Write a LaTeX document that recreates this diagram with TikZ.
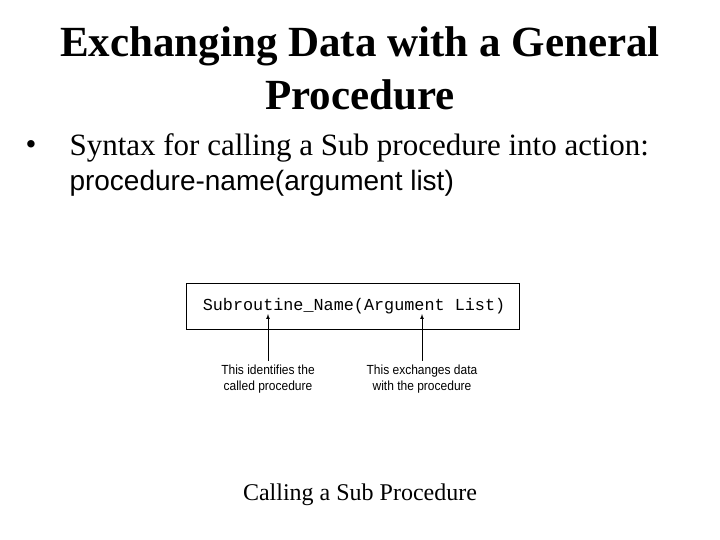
\documentclass[tikz,border=0pt]{standalone}
\usepackage{fontspec}
\setmainfont{Liberation Serif}
\setmonofont{Liberation Mono}
\setsansfont{Liberation Sans}
\usetikzlibrary{positioning}
\tikzset{
  title/.style={font=\fontsize{43}{53}\selectfont\bfseries,align=center},
  bodytext/.style={font=\fontsize{31}{35}\selectfont,anchor=west},
  note/.style={font=\sffamily\fontsize{12}{14}\selectfont,align=center,inner sep=0pt,yscale=1.1},
  pointer/.style={-latex,line width=0.7pt}
}
\begin{document}
\begin{tikzpicture}[x=1pt,y=-1pt]
	\useasboundingbox (0,0) rectangle (720,540);
	\node[title] (head) at (360,68) {Exchanging Data with a General\\Procedure};
	\node[bodytext] (bul) at (22,148) {\textbullet};
	\node[bodytext] (line1) at (66,148) {Syntax for calling a Sub procedure into action:};
	\node[bodytext,font=\sffamily\fontsize{28}{30}\selectfont] (line2) at (66,183) {procedure-name(argument list)};
	\draw[line width=0.8pt] (186,283) rectangle (519,329);
	\node[font=\ttfamily\fontsize{16.8}{18}\selectfont] (code) at (354,306) {Subroutine\_Name(Argument List)};
	\node[note] (left) at (268,379) {This identifies the\\called procedure};
	\node[note] (right) at (422,379) {This exchanges data\\with the procedure};
	\draw[pointer] (left.north) ++(0,-4) -- (268,314);
	\draw[pointer] (right.north) ++(0,-4) -- (422,314);
	\node[font=\fontsize{24}{28}\selectfont] (cap) at (360,495) {Calling a Sub Procedure};
\end{tikzpicture}
\end{document}
